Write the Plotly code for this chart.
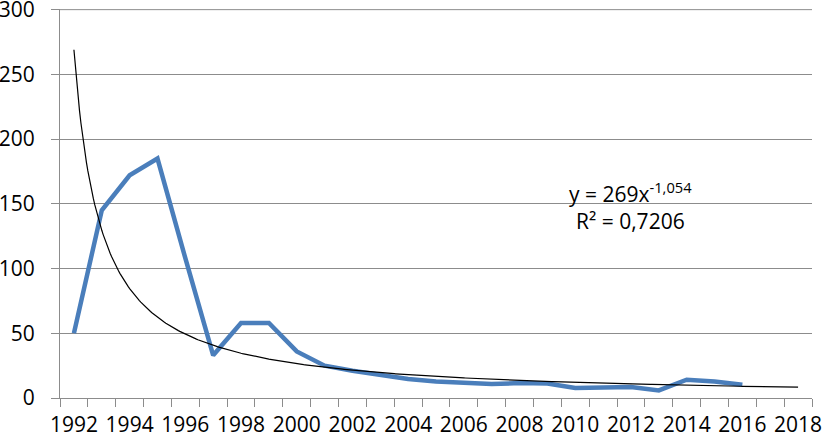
import plotly.graph_objects as go

years = list(range(1992, 2017))
values = [50, 145, 172, 185, 108, 33, 58, 58, 36, 25, 21, 18, 14.6, 12.8, 11.5, 10.8,
          11.5, 11.2, 7.7, 7.7, 8.5, 5.9, 14.1, 12.8, 10.3]

# trendline printed on the chart: y = 269 * x^-1.054, x = 1 for 1992
trend_a = 269
trend_b = -1.054
trend_x = [1 + i / 20 for i in range(0, 26 * 20 + 1)]
trend_years = [1991 + t for t in trend_x]
trend_vals = [trend_a * t ** trend_b for t in trend_x]

tick_years = list(range(1992, 2019, 2))
y_ticks = [0, 50, 100, 150, 200, 250, 300]

FONT = "Open Sans"
GRID = "#8c8c8c"

fig = go.Figure()
fig.add_trace(go.Scatter(x=years, y=values, mode="lines",
                         line=dict(color="#4a7ebb", width=4.5), showlegend=False))
fig.add_trace(go.Scatter(x=trend_years, y=trend_vals, mode="lines",
                         line=dict(color="black", width=1.2), showlegend=False))

fig.add_annotation(x=2012, y=159, text="y = 269x<sup>-1,054</sup>", showarrow=False,
                   font=dict(family=FONT, size=21, color="black"))
fig.add_annotation(x=2012, y=137, text="R² = 0,7206", showarrow=False,
                   font=dict(family=FONT, size=21, color="black"))

# top gridline (at the very edge of the plot area)
fig.add_shape(type="line", xref="paper", x0=0, x1=1, yref="y", y0=300, y1=300,
              line=dict(color=GRID, width=1), layer="below")

fig.update_layout(
    width=823, height=439,
    margin=dict(l=60, r=11, t=9, b=41, autoexpand=False),
    plot_bgcolor="white", paper_bgcolor="white",
    font=dict(family=FONT, size=21, color="black"),
    xaxis=dict(range=[1991.5, 2018.5], tickmode="array", tickvals=tick_years,
               ticktext=[str(t) for t in tick_years], ticks="", showgrid=False,
               showline=True, linecolor=GRID, linewidth=1, zeroline=False,
               tickfont=dict(size=21), automargin=False, ticklabelstandoff=8,
               ticklabeloverflow="allow",
               minor=dict(ticks="outside", ticklen=8, tickcolor=GRID, tick0=1991.5,
                          dtick=1, showgrid=False)),
    yaxis=dict(range=[0, 300.5], tickmode="array", tickvals=y_ticks, showgrid=True,
               gridcolor=GRID, gridwidth=1, showline=True, linecolor=GRID,
               ticks="outside", ticklen=8, tickcolor=GRID, zeroline=False,
               tickfont=dict(size=21), ticklabelstandoff=12, automargin=False,
               ticklabeloverflow="allow"),
)

fig.write_html("out.html", config={"displayModeBar": False},
               post_script="document.body.style.margin='0px';"
                           "document.body.style.overflow='hidden';")
